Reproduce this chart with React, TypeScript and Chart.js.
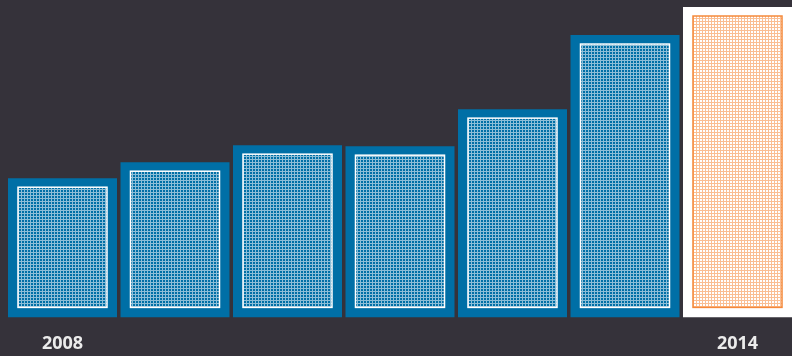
import React, { useEffect, useRef } from "react";
import { Chart, registerables } from "chart.js";

Chart.register(...registerables);

const categories = ["2008", "2009", "2010", "2011", "2012", "2013", "2014"];
const values = [139, 155, 172, 171, 208, 282, 310];
const shownTickLabels = ["2008", "2014"];
const yMax = 317;

const BG = "#35323a";
const BLUE = "#006fa6";
const ORANGE = "#f5893a";

function makePattern(line: string, bg: string | null, alpha: number) {
  const c = document.createElement("canvas");
  c.width = 3;
  c.height = 3;
  const g = c.getContext("2d")!;
  if (bg) {
    g.fillStyle = bg;
    g.fillRect(0, 0, 3, 3);
  }
  g.globalAlpha = alpha;
  g.fillStyle = line;
  g.fillRect(0, 0, 3, 1);
  g.fillRect(0, 1, 1, 2);
  return c;
}

const innerPlugin = {
  id: "innerRects",
  afterDatasetsDraw(chart: any) {
    const ctx = chart.ctx as CanvasRenderingContext2D;
    const meta = chart.getDatasetMeta(0);
    const last = meta.data.length - 1;
    const bluePat = ctx.createPattern(makePattern("#ffffff", null, 0.55), "repeat");
    const orangePat = ctx.createPattern(makePattern(ORANGE, "#ffffff", 0.55), "repeat");
    meta.data.forEach((el: any, i: number) => {
      const { x, y, base, width } = el.getProps(["x", "y", "base", "width"], true);
      const l = x - width / 2 + 10;
      const r = x + width / 2 - 10;
      const t = y + 9;
      const b = base - 10;
      ctx.save();
      ctx.fillStyle = (i === last ? orangePat : bluePat) as any;
      ctx.fillRect(l, t, r - l, b - t);
      ctx.strokeStyle = i === last ? ORANGE : "#ffffff";
      ctx.lineWidth = 1.5;
      ctx.strokeRect(l, t, r - l, b - t);
      ctx.restore();
    });
  },
};

export default function App() {
  const ref = useRef<HTMLCanvasElement>(null);
  useEffect(() => {
    const chart = new Chart(ref.current!, {
      type: "bar",
      data: {
        labels: categories,
        datasets: [
          {
            data: values,
            backgroundColor: categories.map((_, i) => (i === categories.length - 1 ? "#ffffff" : BLUE)),
            borderWidth: 0,
            barPercentage: 0.969,
            categoryPercentage: 1,
          },
        ],
      },
      options: {
        responsive: false,
        animation: false,
        layout: { padding: { left: 6.25, right: 6.25, top: 0, bottom: 1 } },
        plugins: { legend: { display: false }, tooltip: { enabled: false } },
        scales: {
          x: {
            grid: { display: false, drawTicks: false },
            border: { display: false },
            ticks: {
              padding: 16,
              autoSkip: false,
              maxRotation: 0,
              color: "#ececec",
              font: { family: "'Open Sans'", weight: "bold", size: 18 },
              callback: (_v: any, i: number) =>
                shownTickLabels.includes(categories[i]) ? categories[i] : "",
            },
          },
          y: { display: false, min: 0, max: yMax },
        },
      },
      plugins: [innerPlugin],
    });
    return () => chart.destroy();
  }, []);
  return (
    <div
      style={{
        position: "fixed",
        left: 0,
        top: 0,
        width: 792,
        height: 356,
        overflow: "hidden",
        background: BG,
      }}
    >
      <canvas ref={ref} width={800} height={372} style={{ display: "block" }} />
    </div>
  );
}
